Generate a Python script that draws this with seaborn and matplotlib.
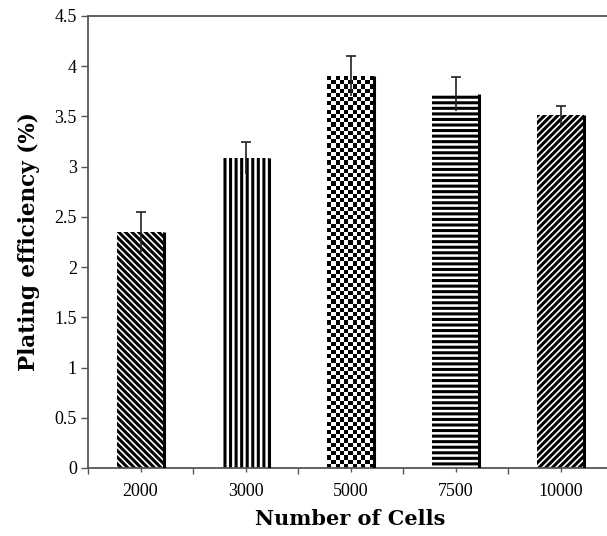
import numpy as np
import pandas as pd
import matplotlib
matplotlib.use("Agg")
import matplotlib.pyplot as plt
import seaborn as sns

cells = ["2000", "3000", "5000", "7500", "10000"]
efficiency = [2.35, 3.09, 3.90, 3.72, 3.51]
errors = [0.20, 0.16, 0.20, 0.17, 0.09]
hatches = ["\\\\\\\\\\", "|||", None, "---", "/////"]

sns.set_theme(style="white")
plt.rcParams["hatch.linewidth"] = 2.2
plt.rcParams["font.family"] = ["Liberation Serif", "DejaVu Serif"]
plt.rcParams["text.color"] = "black"
plt.rcParams["xtick.color"] = "black"
plt.rcParams["ytick.color"] = "black"
plt.rcParams["axes.labelcolor"] = "black"

df = pd.DataFrame({"cells": cells, "eff": efficiency})

fig = plt.figure(figsize=(6.07, 5.36), dpi=100)
ax = fig.add_axes([88 / 607, 68 / 536, 525 / 607, 452 / 536])

sns.barplot(data=df, x="cells", y="eff", color="white", edgecolor="black",
            linewidth=0, width=0.44, ax=ax, saturation=1)

for patch, h in zip(ax.patches, hatches):
    patch.set_facecolor("white")
    patch.set_edgecolor("black")
    patch.set_linewidth(0)
    if h is not None:
        patch.set_hatch(h)
    else:
        # checkerboard fill clipped to the bar
        x0, w = patch.get_x(), patch.get_width()
        y1 = patch.get_height()
        ncol = 11
        nrow = int(round(ncol * (y1 / 4.5 * 452) / (w / 5 * 525)))
        board = (np.add.outer(np.arange(nrow), np.arange(ncol)) % 2).astype(float)
        im = ax.imshow(board, cmap="gray", extent=(x0, x0 + w, 0, y1),
                       aspect="auto", interpolation="nearest", zorder=patch.get_zorder())
        im.set_clip_path(patch)
    # thick right edge
    xr = patch.get_x() + patch.get_width()
    ax.plot([xr, xr], [0, patch.get_height()], color="black", lw=2.2,
            solid_capstyle="butt", zorder=3)

eb = ax.errorbar(np.arange(len(cells)), efficiency, yerr=errors, fmt="none",
                 ecolor="#222222", elinewidth=1.2, capsize=3.5, capthick=1.2, zorder=4)
caplines = eb.lines[1]
if len(caplines) >= 2:
    caplines[0].set_visible(False)

ax.set_xlim(-0.5, 4.5)
ax.set_ylim(0, 4.5)
ax.set_yticks(np.arange(0, 4.51, 0.5))
ax.set_yticklabels(["0", "0.5", "1", "1.5", "2", "2.5", "3", "3.5", "4", "4.5"])
ax.set_xticks(range(len(cells)))
ax.set_xticklabels(cells)
ax.set_xticks(np.arange(-0.5, 4.6, 1.0), minor=True)

for side in ["left", "bottom", "top"]:
    ax.spines[side].set_color("#555555")
    ax.spines[side].set_linewidth(1.3)
ax.spines["right"].set_visible(False)

ax.tick_params(axis="y", direction="out", length=5, width=1, color="#555555",
               labelsize=13, pad=3, left=True)
ax.tick_params(axis="x", which="major", direction="out", length=3, width=1,
               color="#555555", labelsize=13, pad=8, bottom=True)
ax.tick_params(axis="x", which="minor", direction="out", length=4, width=1,
               color="#555555", bottom=True)

ax.set_xlabel("Number of Cells", fontsize=15, family=["DejaVu Serif"],
              fontweight="bold", labelpad=6)
ax.set_ylabel("Plating efficiency (%)", fontsize=15.5, family=["DejaVu Serif"],
              fontweight="bold", labelpad=10)

fig.savefig("out.png", dpi=100)
